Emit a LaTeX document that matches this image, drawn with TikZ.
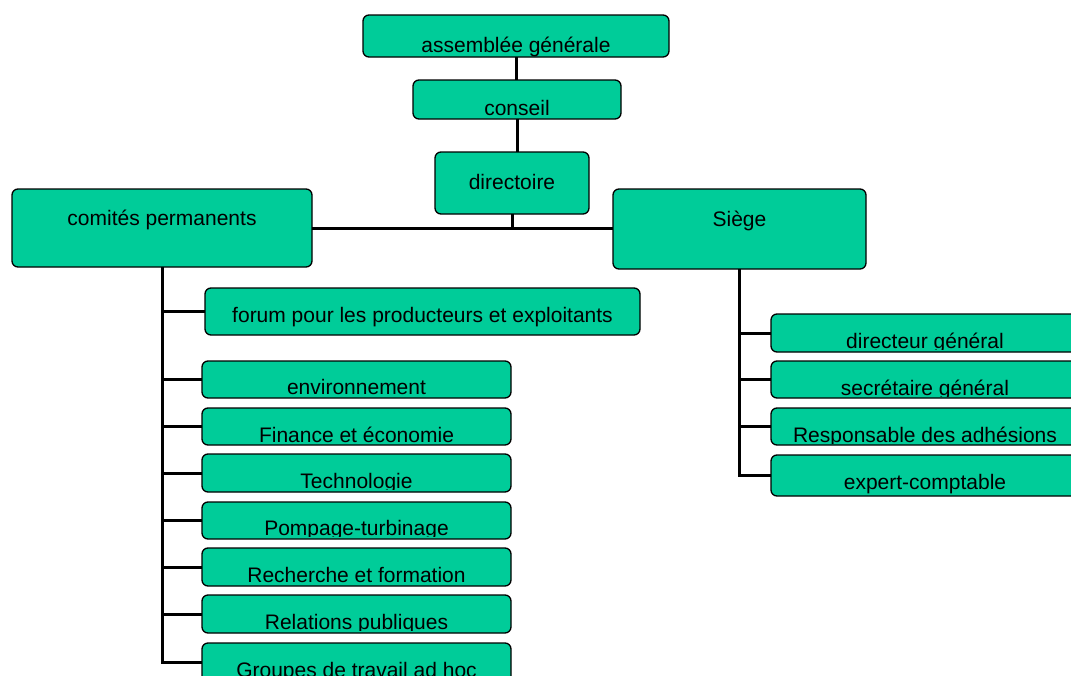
\documentclass[tikz,border=0pt]{standalone}
\usepackage{fontspec}
\setmainfont{Liberation Sans}
\definecolor{boxgreen}{RGB}{0,204,153}
\tikzset{
  obox/.style={draw=black, fill=boxgreen, line width=1.3pt, rounded corners=6pt, inner sep=0pt, outer sep=0pt},
  olabel/.style={anchor=base, inner sep=0pt, font=\fontsize{21}{25}\selectfont},
  conn/.style={line width=3pt}
}
\newcommand\orgbox[8]{%
  \node[obox, minimum width={(#4-#2)*1pt}, minimum height={(#5-#3)*1pt}] (#1) at ({(#2+#4)/2},{(#3+#5)/2}) {};
  \begin{scope}
    \clip (#2,#3) rectangle (#4,#7);
    \node[olabel] (#1-t) at ({(#2+#4)/2},#6) {#8};
  \end{scope}}
\begin{document}
\begin{tikzpicture}[x=1pt,y=-1pt]
\useasboundingbox (0,0) rectangle (1071,675);
\clip (0,0) rectangle (1071,675);
\orgbox{asm}{363}{15}{669}{57}{52}{57}{assemblée générale}
\orgbox{con}{413}{80}{621}{119}{115}{119}{conseil}
\orgbox{dir}{435}{152}{589}{214}{189}{214}{directoire}
\orgbox{com}{12}{189}{312}{267}{225}{267}{comités permanents}
\orgbox{sie}{613}{189}{866}{269}{226}{269}{Siège}
\orgbox{for}{205}{288}{640}{335}{322}{335}{forum pour les producteurs et exploitants}
\orgbox{env}{202}{361}{511}{398}{394}{395}{environnement}
\orgbox{fin}{202}{408}{511}{445}{442}{443}{Finance et économie}
\orgbox{tec}{202}{454}{511}{492}{488}{489}{Technologie}
\orgbox{pom}{202}{502}{511}{539}{535}{536}{Pompage-turbinage}
\orgbox{rec}{202}{548}{511}{586}{582}{583}{Recherche et formation}
\orgbox{rel}{202}{595}{511}{633}{629}{630}{Relations publiques}
\orgbox{grp}{202}{643}{511}{682}{677}{680}{Groupes de travail ad hoc}
\orgbox{dg}{771}{314}{1079}{352}{348}{349}{directeur général}
\orgbox{sg}{771}{361}{1079}{398}{395}{396}{secrétaire général}
\orgbox{ra}{771}{408}{1079}{445}{442}{443}{Responsable des adhésions}
\orgbox{ec}{771}{455}{1079}{496}{489}{493}{expert-comptable}
% connectors
\draw[conn] (asm.south) -- (asm.south |- con.north);
\draw[conn] (con.south) -- (con.south |- dir.north);
\draw[conn] (com.east) -- (com.east -| sie.west);
\draw[conn] (dir.south) -- (dir.south |- com.east);
\draw[conn] (com.south) |- (grp.west);
\foreach \n in {for,env,fin,tec,pom,rec,rel}
  \draw[conn] (com.south |- \n.west) -- (\n.west);
\draw[conn] (sie.south) -- (sie.south |- ra.west);
\draw[line width=2.2pt] (sie.south |- ra.west) |- (ec.west);
\foreach \n in {dg,sg,ra}
  \draw[conn] (sie.south |- \n.west) -- (\n.west);
\end{tikzpicture}
\end{document}
